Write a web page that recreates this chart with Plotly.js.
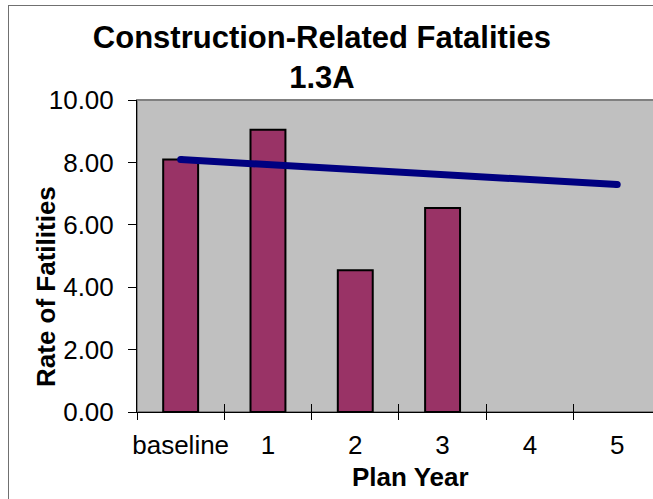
<!DOCTYPE html>
<html>
<head>
<meta charset="utf-8">
<script src="https://cdn.plot.ly/plotly-3.0.1.min.js"></script>
<style>
html,body{margin:0;padding:0;background:#fff;overflow:hidden;}
#chart{width:653px;height:499px;position:relative;}
#frame{position:absolute;left:8px;top:5px;width:700px;height:600px;border:1px solid #707070;pointer-events:none;}
</style>
</head>
<body>
<div id="chart"></div>
<div id="frame"></div>
<script>
// Data
const categories = ['baseline', '1', '2', '3', '4', '5'];
const rates = [8.09, 9.05, 4.54, 6.54, null, null];
const trendCategories = ['baseline', '5'];
const trendValues = [8.09, 7.29];
const yTickValues = [0, 2, 4, 6, 8, 10];

const FONT = 'Arial, "Liberation Sans", sans-serif';

const bars = {
  type: 'bar',
  x: categories,
  y: rates,
  marker: { color: '#993366', line: { color: '#000000', width: 2 } },
  hoverinfo: 'x+y'
};
const trend = {
  type: 'scatter',
  mode: 'lines+markers',
  x: trendCategories,
  y: trendValues,
  line: { color: '#000080', width: 7 },
  marker: { color: '#000080', size: 7 },
  hoverinfo: 'skip'
};
// invisible helper for inner half of crossing ticks
const helper = {
  type: 'scatter', mode: 'none', x: categories, y: categories.map(() => 0),
  xaxis: 'x2', hoverinfo: 'skip', showlegend: false
};

const layout = {
  width: 653, height: 499,
  margin: { l: 137, r: 0, t: 100, b: 87, pad: 0 },
  paper_bgcolor: '#ffffff',
  plot_bgcolor: '#C0C0C0',
  showlegend: false,
  bargap: 0.6,
  font: { family: FONT, color: '#000000', size: 26 },
  title: {
    text: '<b>Construction-Related Fatalities<br>1.3A</b>',
    font: { family: FONT, size: 31, color: '#000000' },
    xref: 'container', yref: 'container',
    x: 0.493, xanchor: 'center',
    y: 1 - 48/499, yanchor: 'top'
  },
  xaxis: {
    type: 'category',
    categoryorder: 'array', categoryarray: categories,
    range: [-0.5, 5.41],
    showline: true, linecolor: '#000000', linewidth: 1,
    ticks: 'outside', tickson: 'boundaries', ticklen: 7, tickwidth: 1, tickcolor: '#000000',
    tickangle: 0,
    ticklabelstandoff: 10,
    tickfont: { family: FONT, size: 26, color: '#000000' },
    showgrid: false, zeroline: false, fixedrange: true
  },
  xaxis2: {
    type: 'category', overlaying: 'x',
    categoryorder: 'array', categoryarray: categories,
    range: [-0.5, 5.41],
    showline: false,
    ticks: 'inside', tickson: 'boundaries', ticklen: 8, tickwidth: 1, tickcolor: '#000000',
    showticklabels: false, showgrid: false, zeroline: false, fixedrange: true
  },
  yaxis: {
    range: [0, 10],
    tickvals: yTickValues,
    tickformat: '.2f',
    showline: true, linecolor: '#000000', linewidth: 1,
    ticks: 'outside', ticklen: 8, tickwidth: 1, tickcolor: '#000000',
    ticklabelstandoff: 9,
    tickfont: { family: FONT, size: 26, color: '#000000' },
    showgrid: false, zeroline: false, fixedrange: true
  },
  shapes: [{
    type: 'rect', xref: 'paper', yref: 'paper', x0: 0, x1: 1.2, y0: 0, y1: 1,
    line: { color: '#808080', width: 2 }, fillcolor: 'rgba(0,0,0,0)', layer: 'below'
  }],
  annotations: [
    {
      text: '<b>Rate of Fatilities</b>', textangle: -90,
      xref: 'paper', yref: 'paper', x: (46 - 137) / 516, y: 0.5 - (287 - 256) / 312,
      xanchor: 'center', yanchor: 'middle', showarrow: false,
      font: { family: FONT, size: 26, color: '#000000' }
    },
    {
      text: '<b>Plan Year</b>',
      xref: 'paper', yref: 'paper', x: (410 - 137) / 516, y: -(477 - 412) / 312,
      xanchor: 'center', yanchor: 'middle', showarrow: false,
      font: { family: FONT, size: 26, color: '#000000' }
    }
  ]
};

Plotly.newPlot('chart', [bars, trend, helper], layout, { displayModeBar: false, staticPlot: true });
</script>
</body>
</html>
